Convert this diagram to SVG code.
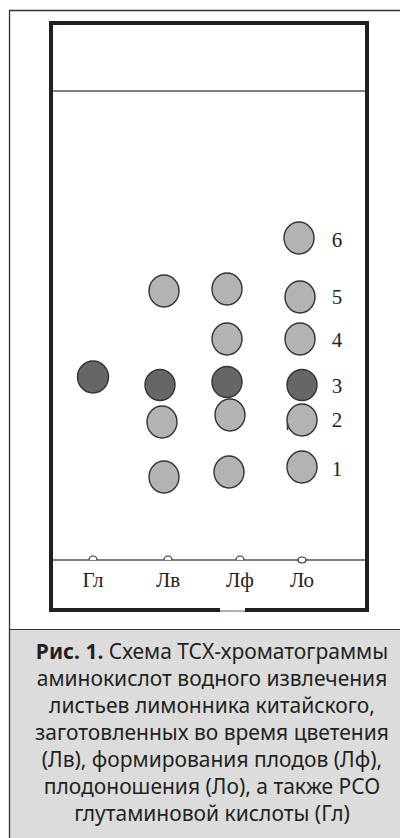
<svg xmlns="http://www.w3.org/2000/svg" width="400" height="838" viewBox="0 0 400 838">
<style>
.lt{fill:#b3b3b3;stroke:#333;stroke-width:1.4}
.dk{fill:#666;stroke:#333;stroke-width:1.4}
.lb{font-family:"Liberation Serif",serif;font-size:21px;fill:#231f20}
.num{font-family:"Liberation Serif",serif;font-size:21px;fill:#231f20;text-anchor:middle}
.cap{font-family:"Noto Sans",sans-serif;font-size:21px;fill:#231f20;text-anchor:middle}
</style>
<rect x="0" y="0" width="400" height="838" fill="#fff"/>
<rect x="9" y="629" width="391" height="209" fill="#dcdcdc"/>
<line x1="9" y1="629.5" x2="400" y2="629.5" stroke="#333" stroke-width="1.2"/>
<path d="M400 10.5 H9.5 V838" fill="none" stroke="#333" stroke-width="1.3"/>
<g id="plate">
<path d="M220 610 H51 V23 H367 V610 H245" fill="none" stroke="#231f20" stroke-width="4"/>
<line x1="220" y1="611" x2="245" y2="611" stroke="#777" stroke-width="1.2"/>
<line x1="53" y1="91" x2="365" y2="91" stroke="#555" stroke-width="1.6"/>
<line x1="53" y1="560" x2="365" y2="560" stroke="#555" stroke-width="1.3"/>
</g>
<g id="starts" fill="#fff" stroke="#333" stroke-width="1.2">
<path d="M89 560 A4 4 0 0 1 97 560"/>
<path d="M164 560 A4 4 0 0 1 172 560"/>
<path d="M236 560 A4 4 0 0 1 244 560"/>
<ellipse cx="302" cy="560" rx="4" ry="3"/>
</g>
<g id="lane-gl"><ellipse class="dk" cx="93" cy="377" rx="15.5" ry="16"/></g>
<g id="lane-lv">
<ellipse class="lt" cx="164" cy="291" rx="15" ry="16"/>
<ellipse class="dk" cx="160" cy="385" rx="15" ry="15.5"/>
<ellipse class="lt" cx="162" cy="422" rx="15" ry="16"/>
<ellipse class="lt" cx="164" cy="477" rx="15" ry="16"/>
</g>
<g id="lane-lf">
<ellipse class="lt" cx="227" cy="289" rx="15" ry="16"/>
<ellipse class="lt" cx="227" cy="339" rx="15" ry="16"/>
<ellipse class="dk" cx="227" cy="382" rx="15" ry="15.5"/>
<ellipse class="lt" cx="230" cy="415" rx="15" ry="16"/>
<ellipse class="lt" cx="229" cy="472" rx="15" ry="16"/>
</g>
<g id="lane-lo">
<ellipse class="lt" cx="299" cy="238" rx="15" ry="16"/>
<ellipse class="lt" cx="300" cy="297" rx="15" ry="16"/>
<ellipse class="lt" cx="300" cy="339" rx="15" ry="16"/>
<ellipse class="dk" cx="302" cy="385" rx="15" ry="15.5"/>
<ellipse class="lt" cx="302" cy="420" rx="15" ry="16"/>
<line x1="287.5" y1="423" x2="287.5" y2="430" stroke="#333" stroke-width="1.5"/>
<ellipse class="lt" cx="302" cy="467" rx="15" ry="16"/>
</g>
<g id="numbers">
<text class="num" x="337" y="247">6</text>
<text class="num" x="337" y="304">5</text>
<text class="num" x="337" y="347">4</text>
<text class="num" x="337" y="393">3</text>
<text class="num" x="337" y="427">2</text>
<text class="num" x="337" y="476">1</text>
</g>
<g id="lanes" class="lb" text-anchor="middle">
<text x="93" y="587">Гл</text>
<text x="168" y="587">Лв</text>
<text x="240" y="587">Лф</text>
<text x="302" y="587">Ло</text>
</g>
<g id="caption">
<text class="cap" x="212" y="659"><tspan font-weight="bold">Рис. 1.</tspan> Схема ТСХ-хроматограммы</text>
<text class="cap" x="212" y="686">аминокислот водного извлечения</text>
<text class="cap" x="212" y="713">листьев лимонника китайского,</text>
<text class="cap" x="212" y="740">заготовленных во время цветения</text>
<text class="cap" x="212" y="767">(Лв), формирования плодов (Лф),</text>
<text class="cap" x="212" y="794">плодоношения (Ло), а также РСО</text>
<text class="cap" x="212" y="821">глутаминовой кислоты (Гл)</text>
</g>
</svg>
